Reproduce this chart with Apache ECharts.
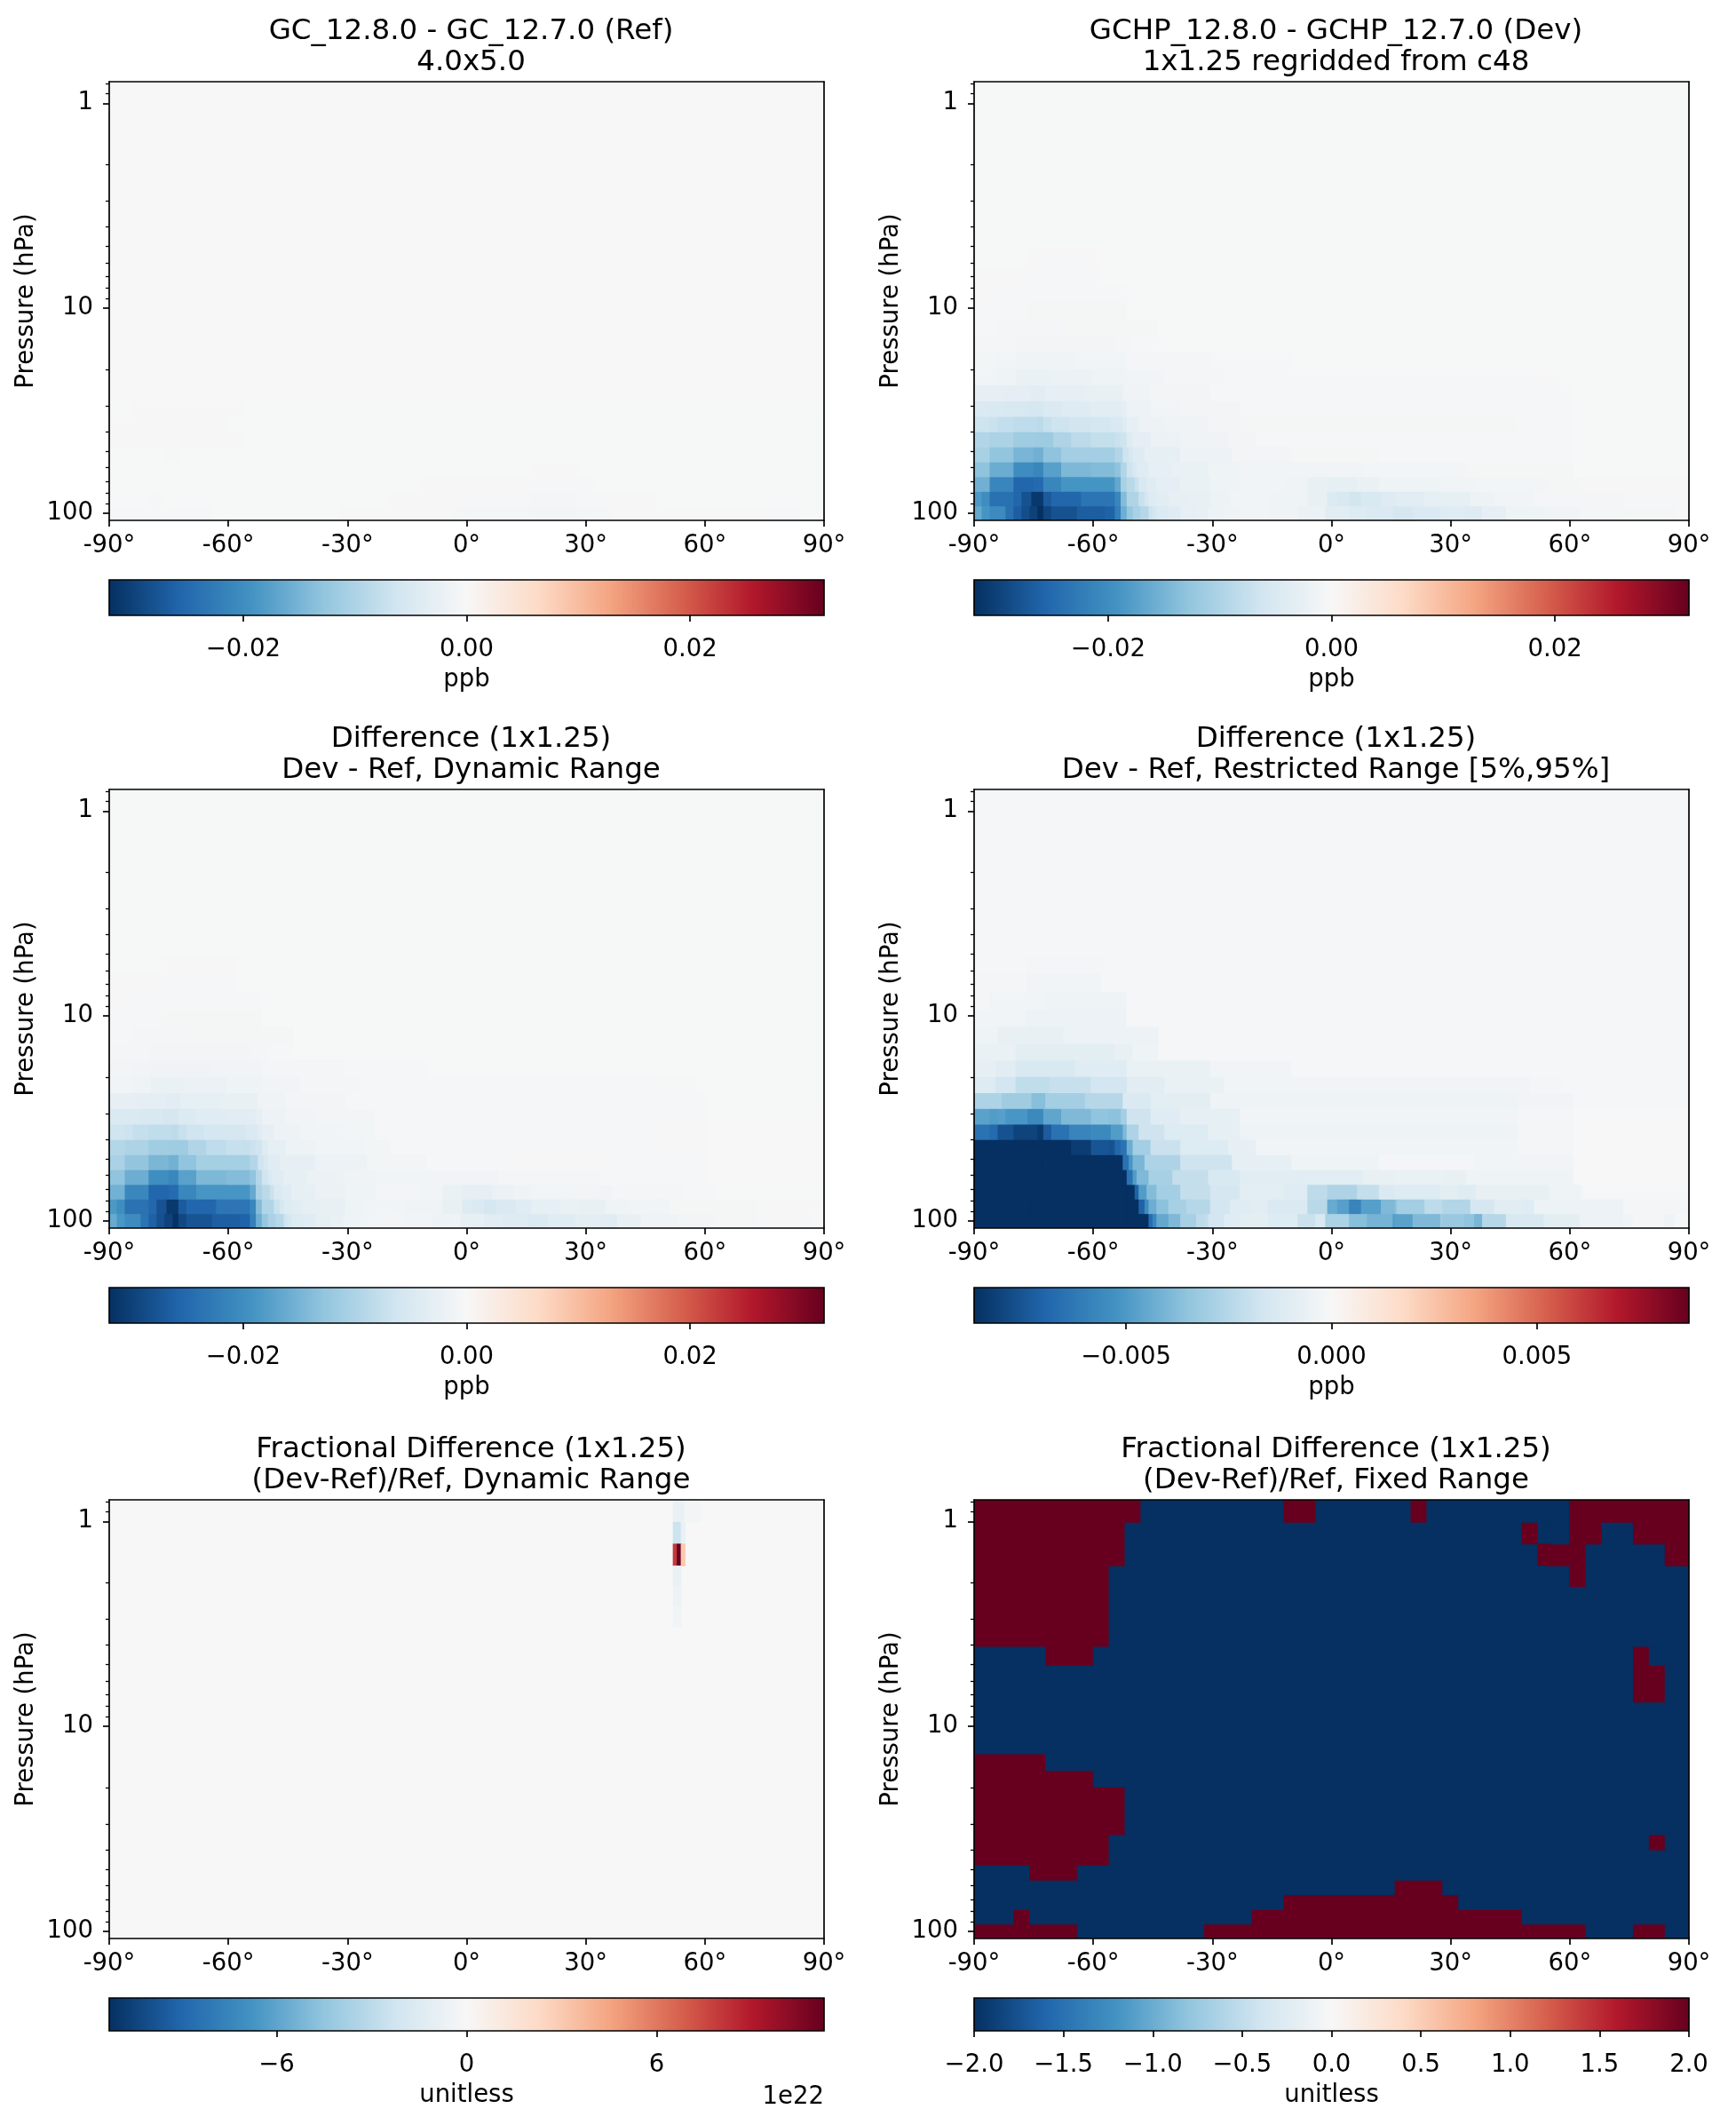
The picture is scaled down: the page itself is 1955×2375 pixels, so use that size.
<!DOCTYPE html>
<html>
<head>
<meta charset="utf-8">
<script src="https://cdn.jsdelivr.net/npm/echarts@6.0.0/dist/echarts.min.js"></script>
<style>
html,body{margin:0;padding:0;background:#ffffff;}
#chart{width:1955px;height:2375px;}
</style>
</head>
<body>
<div id="chart"></div>
<script>
// ---------------- DATA ----------------
// Model level edges (hPa), bottom -> top, of the rows shown
const LEVEL_EDGES = [108.66, 92.37, 78.51, 66.60, 56.39, 47.64, 40.18, 33.81, 28.37, 23.73, 19.79,
  16.46, 13.64, 11.28, 9.29, 7.62, 6.22, 5.05, 4.08, 3.28, 2.62, 2.08, 1.65, 1.29, 1.01, 0.785];
const P_MAJOR_TICKS = [1, 10, 100];
const P_MINOR_TICKS = [0.8, 0.9, 2, 3, 4, 5, 6, 7, 8, 9, 20, 30, 40, 50, 60, 70, 80, 90];
const LAT_MIN = -90, LAT_MAX = 90, LAT_STEP = 30;

// Each row (one model level, bottom first) is a list of [latitude where segment ends, value];
// the first segment starts at -90.
// Ref: GC_12.8.0 - GC_12.7.0 (ppb), 4x5 grid
const refRows = [
  [[-64,-0.0003],[-32,-0.0001],[-4,-0.0002],[16,-0.0007],[28,-0.0009],[36,-0.0007],[76,-0.0002],[84,-0.0003],[90,-0.0001]],
  [[-80,-0.0001],[-76,-0.0002],[-20,-0.0001],[16,-0.0002],[28,-0.0005],[48,-0.0002],[90,-0.0001]],
  [[-12,-0.0001],[16,-0.0002],[32,-0.0003],[90,-0.0001]],
  [[16,-0.0001],[28,-0.0002],[90,-0.0001]],
  [[-76,-0.0001],[-72,-0.0002],[90,-0.0001]],
  [[-56,-0.0002],[90,-0.0001]],
  [[-60,-0.0002],[90,-0.0001]],
  [[-84,-0.0001],[-56,-0.0002],[90,-0.0001]],
  [[90,0]],[[90,0]],[[90,0]],[[90,0]],[[90,0]],[[90,0]],[[90,0]],[[90,0]],[[90,0]],
  [[90,0]],[[90,0]],[[90,0]],[[90,0]],[[90,0]],[[90,0]],[[90,0]],[[90,0]]
];

// Dev: GCHP_12.8.0 - GCHP_12.7.0 (ppb), 1x1.25 regridded from c48
const devRows = [
  [[-88,-0.0165],[-86,-0.019],[-82,-0.0205],[-80,-0.024],[-78,-0.0265],[-76,-0.0285],[-74,-0.030],[-72.5,-0.032],[-70.5,-0.0295],[-64,-0.028],[-57,-0.0265],[-54.5,-0.026],[-53,-0.022],[-51.5,-0.0158],[-50,-0.0125],[-48,-0.0105],[-46,-0.0092],[-45,-0.0068],[-44,-0.0058],[-41,-0.0046],[-38,-0.0040],[-34,-0.0030],[-31,-0.0024],[-27,-0.0018],[-23,-0.0013],[-16,-0.0011],[-8.5,-0.0014],[-1.5,-0.0021],[4.5,-0.0035],[9,-0.0044],[15.5,-0.0048],[20.5,-0.0056],[27.5,-0.0048],[33.5,-0.0040],[38,-0.0042],[44,-0.0027],[53.5,-0.0016],[62.5,-0.0011],[73.5,-0.0007],[86.5,-0.0005],[90,-0.0002]],
  [[-88,-0.0185],[-86,-0.020],[-80,-0.024],[-78,-0.0255],[-75.5,-0.028],[-72.5,-0.031],[-70.5,-0.027],[-63,-0.0255],[-54.5,-0.0235],[-53,-0.021],[-51.5,-0.014],[-48.5,-0.0098],[-47,-0.0072],[-46,-0.0056],[-44,-0.0044],[-41,-0.0037],[-36.5,-0.0030],[-30.5,-0.0026],[-25.5,-0.0017],[-16,-0.0012],[-6,-0.0015],[-1,-0.0026],[1.5,-0.0046],[4.5,-0.0050],[7.5,-0.0060],[12.5,-0.0050],[16.5,-0.0041],[23.5,-0.0035],[35,-0.0028],[41,-0.0017],[51,-0.0012],[73.5,-0.0006],[90,-0.0003]],
  [[-86,-0.0155],[-80,-0.021],[-75,-0.0255],[-72.5,-0.025],[-68,-0.021],[-54.5,-0.019],[-53,-0.0165],[-51.5,-0.0105],[-49.5,-0.0088],[-48.5,-0.0072],[-46.5,-0.0050],[-44,-0.0039],[-38,-0.0031],[-30.5,-0.0022],[-23,-0.0016],[-12,-0.0010],[-6,-0.0013],[-1,-0.0025],[6.5,-0.0029],[12,-0.0023],[27.5,-0.0015],[36.5,-0.0012],[55,-0.0008],[63,-0.0005],[90,-0.0002]],
  [[-86,-0.013],[-80,-0.016],[-75,-0.020],[-72.5,-0.021],[-68,-0.0175],[-60.5,-0.0145],[-54.5,-0.014],[-53,-0.013],[-51.5,-0.0095],[-50,-0.0066],[-49,-0.0050],[-46,-0.0040],[-40,-0.0030],[-31,-0.0022],[-23,-0.0015],[8,-0.0011],[34,-0.0008],[61,-0.0005],[90,-0.0001]],
  [[-86,-0.0105],[-80,-0.0128],[-75,-0.0148],[-72.5,-0.0155],[-68,-0.013],[-54.5,-0.011],[-52.5,-0.0095],[-51,-0.0066],[-50,-0.0052],[-47,-0.0041],[-38,-0.0028],[-25,-0.0019],[-10,-0.0009],[12,-0.0005],[36,-0.0003],[61,-0.0004],[90,-0.0001]],
  [[-86,-0.0095],[-80,-0.0102],[-75,-0.0115],[-70,-0.0117],[-65.5,-0.0099],[-60.5,-0.0085],[-54.5,-0.0077],[-53,-0.0070],[-51.5,-0.0066],[-50,-0.0044],[-45.5,-0.0031],[-38,-0.0020],[-26,-0.0013],[-19,-0.0009],[47,-0.0004],[61,-0.0003],[90,-0.0001]],
  [[-86,-0.0067],[-84,-0.0070],[-80,-0.0078],[-74,-0.0083],[-72.5,-0.0086],[-70.5,-0.0075],[-66,-0.0067],[-60.5,-0.0060],[-55.5,-0.0057],[-52.5,-0.0050],[-51.5,-0.0040],[-48.5,-0.0028],[-42,-0.0019],[-31,-0.0013],[-23,-0.0009],[47,-0.0005],[61,-0.0003],[90,-0.0001]],
  [[-86,-0.0048],[-82,-0.0050],[-76.5,-0.0053],[-72.5,-0.0058],[-68,-0.0048],[-60.5,-0.0041],[-53,-0.0037],[-51.5,-0.0031],[-45.5,-0.0019],[-38,-0.0012],[-23,-0.0009],[47,-0.0004],[61,-0.0003],[90,-0.0001]],
  [[-83,-0.0027],[-75.5,-0.0031],[-72,-0.0037],[-62,-0.0030],[-52.5,-0.0025],[-45.5,-0.0013],[-30.5,-0.0009],[47,-0.0004],[61,-0.0003],[90,-0.0001]],
  [[-84.5,-0.0012],[-79.5,-0.0016],[-71,-0.0022],[-60.5,-0.0020],[-51.5,-0.0016],[-42,-0.0010],[-27,-0.0006],[50,-0.0003],[58,-0.0002],[90,-0.0001]],
  [[-84.5,-0.0008],[-79.5,-0.0010],[-64.5,-0.0014],[-51.5,-0.0011],[-30.5,-0.0006],[-10,-0.0003],[90,-0.0001]],
  [[-79.5,-0.0006],[-54.5,-0.0009],[-50,-0.0007],[-43.5,-0.0004],[90,-0.0001]],
  [[-84,-0.0004],[-67.5,-0.0007],[-43.5,-0.0005],[90,-0.0001]],
  [[-77,-0.0003],[-51.5,-0.0005],[90,-0.0001]],
  [[-86,-0.0002],[-72,-0.0003],[-51.5,-0.0004],[90,-0.0001]],
  [[-76.5,-0.0002],[-58,-0.0003],[90,-0.0001]],
  [[-77,-0.0001],[-57.5,-0.0002],[90,-0.0001]],
  [[90,-0.0001]],[[90,-0.0001]],[[90,-0.0001]],[[90,-0.0001]],
  [[90,-0.0001]],[[90,-0.0001]],[[90,-0.0001]],[[90,-0.0001]]
];

// Fractional difference (Dev-Ref)/Ref (unitless): saturated sign pattern
const fracRows = [
  [[-64,10],[-32,-10],[64,10],[76,-10],[84,10],[90,-10]],
  [[-80,-10],[-76,10],[-20,-10],[48,10],[90,-10]],
  [[-12,-10],[32,10],[90,-10]],
  [[16,-10],[28,10],[90,-10]],
  [[-76,-10],[-64,10],[90,-10]],
  [[-56,10],[90,-10]],
  [[-56,10],[80,-10],[84,10],[90,-10]],
  [[-52,10],[90,-10]],
  [[-52,10],[90,-10]],
  [[-52,10],[90,-10]],
  [[-60,10],[90,-10]],
  [[-72,10],[90,-10]],
  [[90,-10]],
  [[90,-10]],
  [[90,-10]],
  [[76,-10],[84,10],[90,-10]],
  [[76,-10],[84,10],[90,-10]],
  [[-72,-10],[-60,10],[76,-10],[80,10],[90,-10]],
  [[-56,10],[90,-10]],
  [[-56,10],[90,-10]],
  [[-56,10],[90,-10]],
  [[-56,10],[60,-10],[64,10],[90,-10]],
  [[-52,10],[52,-10],[64,10],[84,-10],[90,10]],
  [[-52,10],[48,-10],[52,10],[60,-10],[68,10],[76,-10],[90,10]],
  [[-48,10],[-12,-10],[-4,10],[20,-10],[24,10],[60,-10],[90,10]]
];
// Fine 1-degree cells of the spike near 53N: [lat start, lat end, row index, value]
const fracSpikeCells = [
  [52, 55, 24, -0.8e22], [55, 59, 24, -0.3e22],
  [52, 54, 23, -2.4e22], [54, 55, 23, -0.8e22],
  [52, 53, 22, 8.0e22], [53, 54, 22, 1.13e23], [54, 55, 22, 3.0e22],
  [52, 54, 21, -0.8e22],
  [52, 54, 20, -0.6e22],
  [52, 54, 19, -0.4e22]
];

// Colour ranges and colourbar ticks
const RANGE_PPB = 0.032, RANGE_RESTRICTED = 0.0087, RANGE_FRAC_DYN = 1.129e23, RANGE_FRAC_FIXED = 2;
const TICKS_PPB = [-0.02, 0, 0.02];
const TICKS_RESTRICTED = [-0.005, 0, 0.005];
const TICKS_FRAC_DYN = [-6e22, 0, 6e22];
const TICKS_FRAC_FIXED = [-2, -1.5, -1, -0.5, 0, 0.5, 1, 1.5, 2];

// ---------------- helpers ----------------
const RDBU_R = ['#053061','#2166ac','#4393c3','#92c5de','#d1e5f0','#f7f7f7','#fddbc7','#f4a582','#d6604d','#b2182b','#67001f'];
const RDBU_RGB = RDBU_R.map(h => [parseInt(h.slice(1,3),16), parseInt(h.slice(3,5),16), parseInt(h.slice(5,7),16)]);
function cmap(v, lo, hi) {
  let t = (v - lo) / (hi - lo);
  t = Math.max(0, Math.min(1, t));
  const f = t * 10, i = Math.min(9, Math.floor(f)), u = f - i;
  const a = RDBU_RGB[i], b = RDBU_RGB[i + 1];
  return 'rgb(' + [0,1,2].map(k => Math.round(a[k] + (b[k] - a[k]) * u)).join(',') + ')';
}
function valueAt(segs, lat) {
  for (const s of segs) { if (lat < s[0]) return s[1]; }
  return segs[segs.length - 1][1];
}
function rowsToCells(rows) {
  const cells = [];
  rows.forEach((segs, r) => {
    let lat0 = LAT_MIN;
    segs.forEach(s => { cells.push([lat0, s[0], LEVEL_EDGES[r], LEVEL_EDGES[r + 1], s[1]]); lat0 = s[0]; });
  });
  return cells;
}
function diffRows(a, b) {
  return a.map((segs, r) => {
    const edges = Array.from(new Set(segs.map(s => s[0]).concat(b[r].map(s => s[0])))).sort((x, y) => x - y);
    let lat0 = LAT_MIN;
    return edges.map(e => { const mid = (lat0 + e) / 2; lat0 = e; return [e, valueAt(segs, mid) - valueAt(b[r], mid)]; });
  });
}
function fmt(v, d) {
  const s = Math.abs(v) < 1e-12 ? (0).toFixed(d) : v.toFixed(d);
  return s.replace('-', '\u2212');
}

const refCells = rowsToCells(refRows);
const devCells = rowsToCells(devRows);
const diffCells = rowsToCells(diffRows(devRows, refRows));
const fracCells = rowsToCells(fracRows).concat(
  fracSpikeCells.map(c => [c[0], c[1], LEVEL_EDGES[c[2]], LEVEL_EDGES[c[2] + 1], c[3]]));

const PANELS = [
  {title: 'GC_12.8.0 - GC_12.7.0 (Ref)\n4.0x5.0', cells: refCells, range: RANGE_PPB, ticks: TICKS_PPB, fmt: v => fmt(v, 2), unit: 'ppb'},
  {title: 'GCHP_12.8.0 - GCHP_12.7.0 (Dev)\n1x1.25 regridded from c48', cells: devCells, range: RANGE_PPB, ticks: TICKS_PPB, fmt: v => fmt(v, 2), unit: 'ppb'},
  {title: 'Difference (1x1.25)\nDev - Ref, Dynamic Range', cells: diffCells, range: RANGE_PPB, ticks: TICKS_PPB, fmt: v => fmt(v, 2), unit: 'ppb'},
  {title: 'Difference (1x1.25)\nDev - Ref, Restricted Range [5%,95%]', cells: diffCells, range: RANGE_RESTRICTED, ticks: TICKS_RESTRICTED, fmt: v => fmt(v, 3), unit: 'ppb'},
  {title: 'Fractional Difference (1x1.25)\n(Dev-Ref)/Ref, Dynamic Range', cells: fracCells, range: RANGE_FRAC_DYN, ticks: TICKS_FRAC_DYN, fmt: v => fmt(v / 1e22, 0), unit: 'unitless', offsetText: '1e22'},
  {title: 'Fractional Difference (1x1.25)\n(Dev-Ref)/Ref, Fixed Range', cells: fracCells, range: RANGE_FRAC_FIXED, ticks: TICKS_FRAC_FIXED, fmt: v => fmt(v, 1), unit: 'unitless'}
];

// ---------------- layout ----------------
const FONT = 'DejaVu Sans';
const FS = 27.5, FS_TITLE = 32.5, LW = 1.7;
const COL_LEFT = [123, 1097];
const ROW_TOP = [92, 889, 1689];
const PLOT_W = 805, PLOT_H = 494;
const CB_OFFSET = 561, CB_H = 40;
const TXT = {color: '#000', fontFamily: FONT, fontSize: FS};
const LINE = {color: '#000', width: LW};

const grids = [], xAxes = [], yAxes = [], series = [], titles = [], graphics = [];
const STOPS = RDBU_R.map((c, i) => ({offset: i / 10, color: c}));

PANELS.forEach((p, i) => {
  const col = i % 2, row = Math.floor(i / 2);
  const left = COL_LEFT[col], top = ROW_TOP[row];

  // --- plot grid ---
  const g = grids.length;
  grids.push({left: left, top: top, width: PLOT_W, height: PLOT_H, show: false});
  const xi = xAxes.length;
  xAxes.push({gridIndex: g, type: 'value', min: LAT_MIN, max: LAT_MAX, interval: LAT_STEP, position: 'bottom', z: 10,
    axisLine: {show: true, onZero: false, lineStyle: LINE},
    axisTick: {show: true, length: 7, lineStyle: LINE},
    axisLabel: Object.assign({margin: 15, formatter: v => v + '\u00b0'}, TXT),
    splitLine: {show: false}});
  xAxes.push({gridIndex: g, type: 'value', min: LAT_MIN, max: LAT_MAX, position: 'top', z: 10,
    axisLine: {show: true, onZero: false, lineStyle: LINE}, axisTick: {show: false}, axisLabel: {show: false}, splitLine: {show: false}});
  const yi = yAxes.length;
  yAxes.push({gridIndex: g, type: 'log', logBase: 10, min: LEVEL_EDGES[LEVEL_EDGES.length - 1], max: LEVEL_EDGES[0], inverse: true,
    position: 'left', z: 10,
    name: 'Pressure (hPa)', nameLocation: 'middle', nameGap: 79, nameRotate: 90, nameTextStyle: TXT,
    axisLine: {show: true, onZero: false, lineStyle: LINE},
    axisTick: {show: true, length: 7, lineStyle: LINE, customValues: P_MAJOR_TICKS},
    axisLabel: Object.assign({margin: 18, customValues: P_MAJOR_TICKS, formatter: v => String(Math.round(v))}, TXT),
    splitLine: {show: false}});
  yAxes.push({gridIndex: g, type: 'log', logBase: 10, min: LEVEL_EDGES[LEVEL_EDGES.length - 1], max: LEVEL_EDGES[0], inverse: true,
    position: 'left', z: 10,
    axisLine: {show: false, onZero: false}, axisLabel: {show: false}, splitLine: {show: false},
    axisTick: {show: true, length: 4, lineStyle: {color: '#000', width: 1.3}, customValues: P_MINOR_TICKS}});
  yAxes.push({gridIndex: g, type: 'log', logBase: 10, min: LEVEL_EDGES[LEVEL_EDGES.length - 1], max: LEVEL_EDGES[0], inverse: true,
    position: 'right', z: 10,
    axisLine: {show: true, onZero: false, lineStyle: LINE}, axisTick: {show: false}, axisLabel: {show: false}, splitLine: {show: false}});

  const R = p.range;
  series.push({type: 'custom', xAxisIndex: xi, yAxisIndex: yi, clip: true, animation: false, silent: true,
    encode: {x: [0, 1], y: [2, 3]},
    data: p.cells,
    renderItem: function (params, api) {
      const a = api.coord([api.value(0), api.value(2)]);
      const b = api.coord([api.value(1), api.value(3)]);
      const x = Math.min(a[0], b[0]), y = Math.min(a[1], b[1]);
      const w = Math.abs(b[0] - a[0]), h = Math.abs(b[1] - a[1]);
      return {type: 'rect', shape: {x: x - 0.4, y: y - 0.4, width: w + 0.8, height: h + 0.8},
        style: {fill: cmap(api.value(4), -R, R)}};
    }});

  // --- title ---
  titles.push({text: p.title, left: left + PLOT_W / 2, top: top - 79.5, textAlign: 'center',
    textStyle: {color: '#000', fontFamily: FONT, fontSize: FS_TITLE, fontWeight: 'normal', lineHeight: 35.5}});

  // --- colourbar ---
  const cg = grids.length;
  grids.push({left: left, top: top + CB_OFFSET, width: PLOT_W, height: CB_H, show: false});
  const cx = xAxes.length;
  xAxes.push({gridIndex: cg, type: 'value', min: -R, max: R, position: 'bottom', z: 10,
    name: p.unit, nameLocation: 'middle', nameGap: 59, nameTextStyle: TXT,
    axisLine: {show: false, onZero: false},
    axisTick: {show: true, length: 7, lineStyle: LINE, customValues: p.ticks},
    axisLabel: Object.assign({margin: 25, customValues: p.ticks, formatter: p.fmt}, TXT),
    splitLine: {show: false}});
  const cy = yAxes.length;
  yAxes.push({gridIndex: cg, type: 'value', min: 0, max: 1, show: false});
  series.push({type: 'custom', xAxisIndex: cx, yAxisIndex: cy, animation: false, silent: true,
    encode: {x: [0, 1], y: [2, 3]},
    data: [[-R, R, 0, 1]],
    renderItem: function (params, api) {
      const a = api.coord([api.value(0), api.value(2)]);
      const b = api.coord([api.value(1), api.value(3)]);
      const x = Math.min(a[0], b[0]), y = Math.min(a[1], b[1]);
      const w = Math.abs(b[0] - a[0]), h = Math.abs(b[1] - a[1]);
      return {type: 'group', children: [
        {type: 'rect', shape: {x: x, y: y, width: w, height: h},
          style: {fill: new echarts.graphic.LinearGradient(0, 0, 1, 0, STOPS)}},
        {type: 'rect', shape: {x: x, y: y, width: w, height: h}, z2: 5,
          style: {fill: 'none', stroke: '#000', lineWidth: LW}}
      ]};
    }});

  if (p.offsetText) {
    graphics.push({type: 'text', x: left + PLOT_W, y: top + CB_OFFSET + CB_H + 72, z: 20,
      style: {text: p.offsetText, align: 'right', verticalAlign: 'middle', fill: '#000', font: FS + 'px "' + FONT + '"'}});
  }
});

const chart = echarts.init(document.getElementById('chart'), null, {renderer: 'canvas'});
chart.setOption({
  backgroundColor: '#ffffff',
  animation: false,
  title: titles,
  grid: grids,
  xAxis: xAxes,
  yAxis: yAxes,
  series: series,
  graphic: graphics
});
</script>
</body>
</html>
